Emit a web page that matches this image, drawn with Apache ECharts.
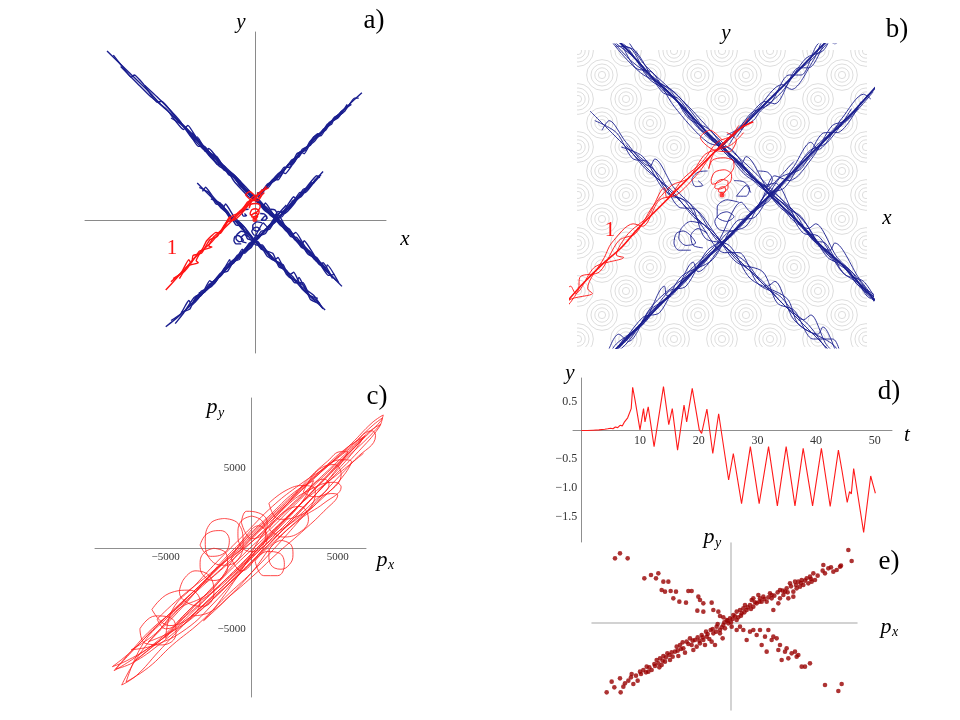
<!DOCTYPE html>
<html><head><meta charset="utf-8">
<script src="https://cdn.jsdelivr.net/npm/echarts@6/dist/echarts.min.js"></script>
<style>html,body{margin:0;padding:0;background:#fff}#c{width:960px;height:720px}</style>
</head><body><div id="c"></div>
<script>
// ---------- panels a) and b): trajectories in lattice units ----------
const bandNW1 = [
 [[-14.1,16.1],[-12,14.05],[-10,12.1],[-9,11.0],[-8,10.1],[-6,8.0],[-4,6.1],[-3,5.0],[-2,4.05],[-1,3.0],[0,2.0],[1,1.05],[2,0.0],[3,-0.95],[4,-2.0],[5,-2.9],[6,-4.0],[7,-5.0],[8.3,-6.35]],
 [[-13.5,15.7],[-12.4,14.3],[-11.8,13.6],[-11.5,13.8],[-10.6,12.9],[-9.3,11.2],[-8.9,11.3],[-7.5,9.7],[-5.5,7.7],[-4.7,6.5],[-4.4,6.8],[-3.2,5.4],[-1.5,3.8],[-0.2,2.4],[1.2,1.1],[2.5,-0.2],[3.6,-1.4],[3.9,-1.2],[4.8,-2.6],[5.6,-3.4],[6.6,-4.7],[7.8,-5.8]],
 [[-12.8,14.6],[-11.2,13.0],[-10,11.8],[-8.4,10.5],[-6.8,8.6],[-6.4,9.0],[-5.2,7.2],[-3.8,5.6],[-2.6,4.7],[-1.2,3.1],[0.3,1.6],[1.6,0.5],[2.8,-0.6],[3.3,-0.9],[4.2,-2.3],[5.4,-3.2],[6.2,-4.3],[6.5,-4.1],[7.4,-5.6]],
 [[-6,8.3],[-4.2,6.3],[-3.6,6.0],[-2.5,4.3],[-1.8,4.0],[-0.8,2.6],[0.6,1.5],[1.8,0.4],[2.2,0.5],[3.2,-1.2],[4.5,-2.3],[4.7,-2.0],[5.8,-3.6],[6.8,-4.6],[6.9,-4.3],[8.0,-6.0]],
 [[-10.5,12.8],[-9,11.4],[-7.2,9.5],[-5.8,7.6],[-5.5,7.9],[-4.6,6.4],[-3.4,5.1],[-2.2,4.4],[-1.4,3.2],[-0.5,2.7],[0.9,0.9],[2.0,0.2],[2.4,-0.1],[3.5,-1.2],[4.4,-2.6],[5.2,-3.0],[5.6,-3.7],[6.4,-4.2],[7.2,-5.3]],
 [[-8,9.7],[-6.6,8.8],[-5.4,7.0],[-4.8,7.0],[-3.6,5.3],[-2.9,5.1],[-2.0,3.7],[-0.6,2.2],[0.4,1.9],[1.4,0.5],[2.6,-0.4],[3.4,-1.6],[4.0,-1.7],[5.0,-3.2],[6.0,-3.9],[7.0,-5.3],[7.6,-5.2]],
 [[-4.4,6.2],[-3.8,6.1],[-3.1,5.0],[-2.0,4.3],[-1.3,3.5],[-0.3,2.2],[0.8,1.3],[1.0,1.6],[2.0,0.1],[3.0,-0.7],[3.8,-1.9],[4.3,-2.0],[5.1,-3.3],[5.9,-3.6],[6.6,-4.7]],
 [[-7,9.1],[-5,7.1],[-4.5,6.4],[-3.5,5.6],[-2.5,4.4],[-1.6,3.7],[-0.4,2.3],[0.7,1.4],[1.5,0.6],[2.4,-0.5],[3.3,-1.2],[4.0,-2.1],[4.9,-2.8],[5.8,-3.9],[6.4,-4.3],[7.3,-5.4]],
 [[-6.2,8.1],[-5.0,6.8],[-4.0,6.2],[-3.0,4.8],[-2.2,4.3],[-1.0,2.8],[0.0,2.1],[1.0,0.9],[1.9,0.3],[2.9,-1.0],[3.7,-1.6],[4.6,-2.7],[5.3,-3.2],[6.1,-4.2],[7.1,-5.0]]
];
const bandNE1 = [
 [[-0.3,1.8],[1,3.0],[2,4.0],[3,5.0],[4,6.05],[5,7.0],[6,8.0],[7,9.0],[8,10.0],[9,11.0],[10.2,12.1]],
 [[0.2,2.5],[1.3,3.1],[1.6,3.5],[2.5,4.3],[3.5,5.7],[4.2,6.0],[4.6,6.6],[5.7,7.5],[6.5,8.6],[7.3,9.1],[7.5,9.5],[8.6,10.4],[9.5,11.6],[9.9,11.6]],
 [[0.8,2.7],[1.8,3.9],[2.2,3.8],[3.2,5.3],[3.6,5.3],[4.5,6.7],[5.3,7.1],[5.5,7.6],[6.2,8.0],[6.9,9.1],[7.9,9.7],[8.2,10.3],[9.2,11.0]],
 [[0.3,2.1],[1.2,3.4],[2.0,3.8],[2.8,5.0],[3.3,5.0],[4.0,6.3],[4.8,6.6],[5.2,7.4],[6.0,8.2],[6.3,8.0],[7.1,9.3],[8.0,9.8],[8.8,11.0]],
 [[0.6,2.4],[1.5,3.6],[2.5,4.6],[2.9,4.4],[3.8,5.6],[4.3,6.5],[4.7,6.3],[5.6,7.9],[6.7,8.5],[7.6,9.8],[8.4,10.2]],
 [[0.1,2.2],[1.1,3.2],[2.1,4.1],[3.1,5.1],[3.9,5.8],[4.9,6.9],[5.9,8.0],[6.8,8.8],[7.8,9.9],[8.9,10.9]]
];
const bandNE2 = [
 [[6.5,4.6],[5.5,3.5],[4.5,2.5],[3.5,1.5],[2.5,0.5],[1.5,-0.5],[0.5,-1.5],[-0.5,-2.5],[-1.5,-3.5],[-2.5,-4.5],[-3.5,-5.5],[-4.5,-6.5],[-5.5,-7.5],[-6.5,-8.5],[-7.5,-9.4],[-8.5,-10.2]],
 [[6.2,4.0],[5.9,4.2],[5.0,3.2],[4.0,1.9],[3.7,2.2],[3.0,1.2],[2.0,-0.2],[1.0,-0.9],[0,-2.1],[-1.0,-3.2],[-1.2,-2.8],[-2.0,-4.1],[-3.0,-4.8],[-3.9,-6.1],[-4.3,-5.8],[-5.0,-7.0],[-6.0,-8.1],[-6.3,-7.7],[-7.1,-9.0],[-8.0,-9.6]],
 [[5.8,3.9],[4.8,2.6],[4.3,2.6],[3.3,1.1],[2.4,0.7],[1.4,-0.9],[0.6,-1.1],[-0.4,-2.7],[-1.7,-3.4],[-2.6,-4.9],[-3.3,-5.1],[-4.6,-6.7],[-5.8,-7.4],[-6.8,-8.9],[-7.6,-9.9]],
 [[3.0,1.4],[2.0,0.3],[1.2,-0.7],[0.8,-0.3],[-0.2,-2.0],[-1.3,-3.1],[-2.3,-4.2],[-2.4,-3.8],[-3.3,-5.4],[-4.4,-6.2],[-5.2,-7.3],[-5.3,-6.9]],
 [[6.3,4.3],[5.2,3.1],[4.6,2.9],[3.8,1.6],[2.8,0.6],[2.2,0.8],[1.6,-0.3],[0.4,-1.7],[-0.6,-2.3],[-1.5,-3.8],[-2.2,-4.0],[-3.2,-5.3],[-4.0,-5.9],[-4.8,-6.9],[-5.6,-7.3],[-6.2,-8.5],[-7.0,-8.8]],
 [[5.4,3.6],[4.4,2.2],[3.6,1.8],[2.6,0.3],[1.8,0.0],[1.0,-1.3],[0.2,-1.6],[-0.8,-2.9],[-1.9,-3.7],[-2.9,-4.6],[-3.6,-5.7],[-4.2,-6.4],[-5.1,-6.8],[-6.0,-8.0]],
 [[6.1,4.2],[5.1,3.0],[4.2,2.3],[3.2,1.3],[2.3,0.2],[1.3,-0.6],[0.3,-1.8],[-0.7,-2.6],[-1.6,-3.7],[-2.7,-4.6],[-3.6,-5.6],[-4.4,-6.5],[-5.4,-7.4],[-6.4,-8.4]],
 [[5.7,3.6],[4.6,2.7],[3.9,1.8],[2.9,0.8],[1.7,-0.4],[0.8,-1.2],[-0.1,-2.2],[-1.1,-3.0],[-2.1,-4.1],[-3.1,-5.0],[-3.8,-5.9],[-4.9,-6.8],[-5.8,-7.9]]
];
const bandNW2 = [
 [[-5.5,3.5],[-4.5,2.5],[-3.5,1.5],[-2.5,0.5],[-1.5,-0.5],[-0.5,-1.5],[0.5,-2.5],[1.5,-3.5],[2.5,-4.5],[3.5,-5.5],[4.5,-6.5],[5.5,-7.5],[6.7,-8.6]],
 [[-5.0,2.7],[-4.7,3.1],[-4.0,2.2],[-3.0,1.2],[-2.8,1.5],[-2.0,0.3],[-1.0,-0.7],[-0.2,-1.9],[1.0,-2.8],[1.9,-3.8],[2.2,-3.6],[3.0,-5.2],[4.0,-5.8],[4.2,-5.5],[5.0,-7.0],[6.0,-7.8],[6.4,-8.4]],
 [[-4.2,2.0],[-3.3,1.6],[-2.4,0.2],[-1.3,-0.4],[-0.7,-1.8],[0.3,-2.1],[1.2,-3.5],[2.7,-4.3],[3.2,-5.4],[4.7,-6.3],[5.3,-7.6],[6.2,-8.0]],
 [[-5.3,3.1],[-4.4,2.6],[-3.7,1.5],[-3.1,1.4],[-2.2,0.0],[-1.6,-0.2],[-0.9,-1.2],[0.1,-2.4],[0.7,-2.4],[1.5,-3.7],[2.4,-4.2],[3.4,-5.2],[3.7,-5.0],[4.4,-6.3],[5.6,-7.2],[6.5,-8.5]],
 [[-3.8,1.9],[-2.6,0.8],[-1.8,-0.5],[-1.1,-0.6],[-0.3,-1.6],[0.6,-2.8],[1.7,-3.2],[2.3,-4.5],[3.0,-4.8],[3.8,-6.0],[4.6,-6.0],[5.2,-7.2],[6.0,-7.5]],
 [[-4.0,2.1],[-3.2,1.1],[-2.1,0.2],[-1.2,-0.9],[-0.4,-1.5],[0.6,-2.7],[1.6,-3.5],[2.6,-4.6],[3.6,-5.4],[4.5,-6.6],[5.6,-7.6]]
];
const blueCurls = [
 [[-0.8,-1.2],[-1.3,-1.1],[-1.7,-1.4],[-1.8,-1.8],[-1.5,-2.1],[-1.1,-2.0],[-1.3,-1.7],[-1.6,-1.5],[-1.9,-1.6],[-2.0,-2.0],[-1.8,-2.3],[-1.3,-2.3]],
 [[-0.6,-1.6],[-1.0,-1.4],[-1.3,-1.7],[-1.2,-2.1],[-0.8,-2.2]],
 [[0.7,-0.3],[0.2,-0.2],[-0.2,-0.5],[-0.2,-0.9],[0.2,-1.1],[0.5,-0.9],[0.2,-0.7],[-0.1,-0.8],[-0.3,-1.1],[-0.1,-1.45],[0.4,-1.5],[0.7,-1.3]],
 [[0.5,0.6],[0.9,0.55],[1.15,0.25],[1.0,-0.05],[0.6,-0.05],[0.8,0.2],[1.0,0.4],[1.2,0.1]],
 [[-0.6,1.0],[-1.0,0.95],[-1.25,0.65],[-1.1,0.35],[-0.8,0.4],[-1.0,0.6]],
 [[1.5,1.0],[1.9,0.95],[2.1,0.65],[1.9,0.35],[1.6,0.4]]
];
const redStrands = [
 [[1.3,3.05],[0.8,2.8],[0.2,2.3],[-0.5,1.6],[-1.3,0.8],[-2.0,0.1],[-2.8,-0.7],[-3.5,-1.4],[-4.2,-2.2],[-5.0,-2.9],[-5.8,-3.7],[-6.6,-4.6],[-7.5,-5.6],[-8.5,-6.7]],
 [[1.1,3.2],[0.5,2.5],[-0.2,2.2],[-0.8,1.4],[-1.6,0.7],[-2.3,-0.1],[-2.4,0.3],[-3.1,-0.9],[-3.9,-1.6],[-4.4,-2.5],[-4.1,-2.6],[-5.3,-3.0],[-6.1,-4.1],[-6.3,-3.8],[-7.0,-5.0],[-8.0,-5.9]],
 [[0.9,2.6],[0.4,2.1],[-0.3,1.8],[-1.0,0.9],[-1.9,0.0],[-2.6,-0.2],[-3.3,-1.3],[-3.7,-1.2],[-4.6,-2.0],[-4.9,-2.6],[-5.6,-3.9],[-5.4,-4.1],[-6.4,-4.4],[-7.2,-5.6]],
 [[0.7,2.9],[0.0,2.0],[-0.7,1.7],[-1.4,0.7],[-2.1,0.4],[-2.9,-0.5],[-3.6,-1.6],[-4.3,-1.9],[-5.1,-3.2],[-5.9,-3.4],[-6.0,-4.0],[-6.7,-4.9],[-7.8,-5.6]],
 [[0.0,2.3],[-0.5,2.7],[-0.9,2.4],[-0.4,1.9],[0.3,1.8],[0.6,2.3],[0.2,2.6]],
 [[0,0],[0.15,0.2],[0.1,0.35],[-0.1,0.3],[-0.15,0.15],[0,0.1],[0.25,0.3],[0.25,0.55],[0,0.65],[-0.25,0.5],[-0.3,0.3],[-0.1,0.25],[0.35,0.55],[0.4,0.85],[0.1,1.05],[-0.3,0.95],[-0.45,0.6],[-0.4,0.45],[0.2,0.75],[0.5,1.2],[0.45,1.45],[0.05,1.55],[-0.4,1.45],[-0.55,1.1],[-0.45,1.5],[-0.3,1.8]]
];
const startPoint = [[0,0]];
// background potential contours (lattice of concentric rings) in b)
const latticeIdx = [-7,-6,-5,-4,-3,-2,-1,0,1,2,3,4,5,6,7];
const ringRadii = [0.15,0.3,0.46,0.64];

// ---------- panel c): momentum loops (px, py) ----------
const cLoops = [
 [[-8100,-7350],[-7000,-6400],[-5500,-4800],[-4000,-3300],[-2500,-1800],[-1000,-300],[500,1200],[2200,2900],[4000,4700],[5800,6500],[7000,7800],[7650,8280],[7500,7900],[6300,6600],[4500,4600],[2800,2700],[1000,700],[-700,-1300],[-2500,-3200],[-4300,-4900],[-6000,-6200],[-7300,-7000],[-8100,-7350]],
 [[-7560,-8490],[-6700,-7900],[-5400,-6400],[-4000,-4800],[-2600,-3300],[-1200,-1900],[300,-300],[1800,1300],[3300,2900],[4800,4500],[6200,6000],[7400,7500],[7600,8100],[7000,7600],[5600,6200],[4000,4800],[2500,3400],[1000,1900],[-500,400],[-2200,-1500],[-3800,-3300],[-5300,-5000],[-6600,-6700],[-7560,-8490]],
 [[-7900,-7500],[-6500,-5900],[-5000,-4300],[-3500,-2800],[-2000,-1500],[-600,0],[800,1500],[2500,3200],[4200,5000],[5600,6300],[6500,6900],[6000,6100],[4600,4400],[3000,2500],[1500,800],[0,-800],[-1800,-2700],[-3600,-4400],[-5400,-6000],[-6900,-7100],[-7900,-7500]],
 [[-6000,-5800],[-4500,-4200],[-3000,-2400],[-1800,-900],[-500,500],[1000,2000],[2500,3500],[3600,4200],[3000,3000],[1800,1500],[400,0],[-1000,-1800],[-2600,-3500],[-4200,-4900],[-6000,-5800]],
 [[-5000,-5600],[-3600,-3800],[-2000,-2500],[-500,-1000],[1000,600],[2600,1800],[4200,3200],[5400,4600],[5800,5400],[5200,5500],[4000,4800],[2600,3800],[1200,2600],[-300,1000],[-1800,-600],[-3300,-2300],[-4600,-3800],[-5000,-5600]],
 [[-2800,-4500],[-2000,-3500],[-500,-1200],[600,800],[2000,2600],[3500,3700],[4800,4100],[5200,3800],[4200,2800],[2800,1800],[1300,300],[0,-1500],[-1500,-3200],[-2800,-4500]],
 [[-1000,-1500],[1000,800],[3000,2900],[5000,4600],[6500,5900]],
 [[-1600,1850],[-800,1550],[-500,400],[-800,-700],[-1600,-1050],[-2400,-700],[-2700,400],[-2400,1550],[-1600,1850]],
 [[1700,500],[2300,200],[2400,-400],[2200,-1000],[1700,-1300],[1100,-1000],[1000,-400],[1200,200],[1700,500]],
 [[-2200,0],[-1500,-300],[-1400,-1000],[-1600,-1700],[-2200,-2000],[-2800,-1700],[-3000,-1000],[-2800,-300],[-2200,0]],
 [[0,2000],[600,1700],[800,900],[600,100],[0,-200],[-600,100],[-800,900],[-600,1700],[0,2000]],
 [[1000,2800],[2000,3600],[3000,3900],[3700,3600],[3500,2700],[2700,2000],[1600,1800],[1000,2800]],
 [[-5800,-3800],[-4800,-2800],[-3600,-2600],[-3000,-3300],[-3600,-4300],[-4800,-4800],[-5800,-3800]],
 [[-1200,-600],[-300,800],[400,1400],[900,700],[300,-500],[-600,-1400],[-1200,-600]],
 [[-8000,-7600],[-6800,-6800],[-5200,-5500],[-3800,-4000],[-2300,-2500],[-900,-1000],[700,600],[2300,2200],[3900,3900],[5300,5400],[6700,6800],[7500,7700],[6900,7300],[5400,5800],[3800,4200],[2200,2600],[600,1000],[-1000,-600],[-2600,-2100],[-4200,-3600],[-5800,-5000],[-7100,-6500],[-8000,-7600]],
 [[-7300,-8300],[-6000,-7400],[-4600,-6000],[-3000,-4600],[-1500,-3000],[0,-1500],[1500,200],[3000,2000],[4500,3800],[6000,5500],[7200,7000],[7000,7300],[5700,6200],[4200,4900],[2700,3500],[1200,2000],[-300,500],[-1800,-1000],[-3300,-2600],[-4800,-4200],[-6300,-5900],[-7300,-8300]],
 [[-7000,-6300],[-5600,-5300],[-4300,-3800],[-2800,-3000],[-2000,-2200],[-1000,-600],[200,800],[1600,2200],[3200,4200],[4400,5400],[5200,6000],[5600,6000],[5000,5000],[3600,3200],[2200,1600],[800,0],[-600,-1500],[-2200,-3400],[-3800,-5000],[-5600,-6000],[-7000,-6300]],
 [[-4000,-2000],[-3300,-1400],[-2400,-1800],[-2200,-2800],[-2800,-3600],[-3700,-3400],[-4200,-2700],[-4000,-2000]],
 [[1000,1200],[1800,2200],[2800,2600],[3300,1800],[2800,1000],[1800,700],[1000,1200]],
 [[-600,1600],[-300,2300],[400,2200],[900,1600],[700,900],[0,600],[-600,1600]],
 [[3000,3500],[3800,4800],[4800,5200],[5200,4600],[4600,3600],[3600,3200],[3000,3500]],
 [[-6500,-5000],[-5600,-4200],[-4600,-4400],[-4400,-5300],[-5200,-6000],[-6200,-5900],[-6500,-5000]],
 [[200,-800],[900,-200],[1600,-300],[1900,-1000],[1500,-1700],[700,-1700],[200,-800]],
 [[-3000,200],[-2600,900],[-1800,1100],[-1300,500],[-1600,-300],[-2400,-500],[-3000,200]],
 [[-6800,-7000],[-5200,-5600],[-3600,-3900],[-2000,-2100],[-500,-400],[1000,1100],[2600,2800],[4200,4500],[5700,6000],[6600,7000],[6200,6500],[4800,5000],[3300,3300],[1800,1600],[300,0],[-1300,-1700],[-2900,-3400],[-4500,-5000],[-6000,-6300],[-6800,-7000]],
 [[-5500,-4400],[-4200,-3100],[-2800,-1900],[-1400,-700],[0,400],[1500,1800],[3000,3300],[4200,4300],[4500,4000],[3600,2900],[2200,1500],[800,200],[-700,-1200],[-2200,-2600],[-3600,-4000],[-5000,-5000],[-5500,-4400]],
 [[-3500,-4200],[-2200,-3000],[-800,-1700],[700,-200],[2000,1100],[3400,2400],[4600,3400],[5000,3300],[4200,2300],[2900,1000],[1500,-300],[200,-1600],[-1200,-2900],[-2500,-4000],[-3500,-4200]]
];
const cTicks = [-5000, 5000];

// ---------- panel d): y(t) ----------
const tVals = [0,1,2,3,4,4.5,5,5.4,5.8,6.2,6.6,7,7.3,7.6,7.9,8.2,8.5,8.75,9.15,9.4,10.0,10.6,10.85,11.4,12.4,14.0,14.9,15.5,16.4,17.5,17.95,18.9,20.1,20.5,21.4,22.4,23.4,25.1,25.9,27.3,28.8,30.3,31.9,33.4,34.9,36.4,37.8,39.4,40.9,42.4,43.8,44.4,45.3,45.7,46.0,46.4,48.1,49.3,49.8,50.1];
const yVals = [0,0,0.005,0.01,0.02,0.03,0.04,0.03,0.06,0.05,0.09,0.08,0.14,0.12,0.22,0.2,0.38,0.75,0.53,0.5,0.01,0.38,0.15,0.41,-0.28,0.76,0.1,0.38,-0.34,0.44,0.15,0.73,0.01,-0.05,0.37,-0.4,0.29,-0.86,-0.4,-1.27,-0.28,-1.27,-0.28,-1.31,-0.28,-1.31,-0.31,-1.31,-0.31,-1.32,-0.34,-0.69,-1.25,-1.06,-1.1,-0.66,-1.77,-0.79,-0.98,-1.09];
const dTTicks = [10,20,30,40,50];
const dYTicks = [-1.5,-1.0,-0.5,0.5];

// ---------- panel e): scatter (px, py), arbitrary units ----------
const eArmUpLeft = [[-348,192],[-333,207],[-310,192],[-260,132],[-240,142],[-218,147],[-225,132],[-203,122],[-188,122],[-208,97],[-198,92],[-181,94],[-165,92],[-128,94],[-118,94],[-173,72],[-155,62],[-135,59],[-98,77],[-93,67],[-101,35],[-83,32],[-83,57],[-58,59],[-38,32],[-53,37],[-33,19],[-23,15]];
const eDiagLow = [[-373,-210],[-358,-178],[-333,-168],[-331,-210],[-318,-183],[-308,-175],[-298,-155],[-323,-193],[-293,-185],[-270,-155],[-263,-143],[-253,-133],[-238,-143],[-228,-131],[-218,-123],[-213,-108],[-203,-101],[-191,-93],[-183,-113],[-175,-103],[-168,-88],[-163,-73],[-153,-68],[-143,-78],[-133,-58],[-123,-48],[-118,-68],[-108,-53],[-103,-73],[-93,-63],[-88,-38],[-75,-28],[-73,-43],[-61,-23],[-53,-33],[-48,-68],[-43,-13],[-33,-23],[-23,-8],[-18,-18],[-13,7],[-8,-3],[-198,-118],[-208,-128],[-223,-113],[-248,-148],[-273,-148],[-158,-101],[-138,-91],[-113,-83],[-83,-53],[-78,-68],[-58,-58],[-33,-33],[-25,-48],
 [-350,-195],[-300,-165],[-285,-160],[-280,-175],[-255,-150],[-245,-135],[-230,-125],[-215,-135],[-205,-115],[-195,-105],[-185,-98],[-178,-90],[-160,-85],[-150,-80],[-145,-60],[-128,-65],[-115,-55],[-100,-45],[-95,-55],[-85,-45],[-70,-35],[-65,-50],[-55,-20],[-45,-28],[-40,-5],[-28,-15],[-20,0],[-10,5]];
const eDiagHigh = [[-3,12],[7,22],[17,7],[2,-13],[17,32],[27,37],[32,27],[37,42],[47,37],[42,52],[57,52],[62,67],[67,47],[77,57],[87,72],[92,62],[97,77],[107,62],[117,87],[122,72],[127,37],[142,57],[147,97],[157,82],[167,102],[172,72],[177,117],[187,92],[197,102],[202,122],[212,127],[217,112],[227,132],[237,137],[247,147],[242,122],[252,127],[277,172],[282,147],[292,162],[307,152],[317,157],[327,167],[352,217],[362,184],[67,72],[82,82],[147,72],[162,92],[192,122],[207,107],[232,117],[187,77],[122,82],
 [0,0],[5,10],[12,18],[22,15],[30,20],[40,30],[50,45],[60,40],[72,60],[85,62],[100,70],[112,75],[130,80],[140,90],[155,95],[170,90],[180,108],[195,112],[210,118],[222,125],[240,130],[260,140],[275,155],[300,165],[330,170]];
const eArmLowRight = [[17,-23],[27,-13],[37,-23],[47,-53],[57,-28],[67,-23],[77,-38],[87,-23],[92,-68],[102,-43],[107,-88],[112,-23],[122,-53],[127,-43],[137,-48],[142,-83],[147,-68],[152,-113],[162,-88],[167,-78],[172,-108],[182,-93],[192,-88],[197,-103],[202,-98],[212,-133],[222,-133],[237,-123],[282,-188],[322,-206],[332,-185]];

// ---------- build ----------
const BLUE = '#1b1f8f', RED = '#ff1414';
const SERIF = '"Liberation Serif", "DejaVu Serif", serif';
const coreStrands = [bandNW1[0], bandNE1[0], bandNE2[0], redStrands[0]];
const blueStrands = [].concat(bandNW1, bandNE1, bandNE2, bandNW2, blueCurls);
const latticeData = [];
latticeIdx.forEach(i => latticeIdx.forEach(j => { if ((i + j) % 2 === 0) latticeData.push([i, j]); }));

const grids = [
  {left: 85, top: 32, width: 301, height: 321},     // 0 a
  {left: 577, top: 50, width: 290, height: 297},    // 1 b pattern
  {left: 570, top: 44, width: 303, height: 304},    // 2 b trajectories
  {left: 95, top: 398, width: 271, height: 299},    // 3 c axes
  {left: 573, top: 378, width: 319, height: 164},   // 4 d
  {left: 592, top: 543, width: 265, height: 167},   // 5 e
  {left: 95, top: 398, width: 292.57, height: 299}  // 6 c curves (same scale, wider so loops run past the axis)
].map(g => Object.assign(g, {containLabel: false, outerBoundsMode: 'none'}));

const hidden = (gi, min, max) => ({gridIndex: gi, type: 'value', min, max, show: false});
const plainAxis = (gi, min, max, color, width) => ({
  gridIndex: gi, type: 'value', min, max,
  axisLine: {show: true, onZero: true, lineStyle: {color, width}},
  axisTick: {show: false}, axisLabel: {show: false}, splitLine: {show: false}
});
// axis with labels, shifted (offset) so that it passes through the origin
const labelAxis = (gi, min, max, offset, ticks, fmt, margin, fs) => ({
  gridIndex: gi, type: 'value', min, max, offset,
  axisLine: {show: true, onZero: false, lineStyle: {color: '#8f8f8f'}},
  axisTick: {show: false}, splitLine: {show: false},
  axisLabel: {show: true, customValues: ticks, formatter: fmt, margin, color: '#333', fontFamily: SERIF, fontSize: fs}
});
const fmtNum = v => (v < 0 ? '\u2212' : '') + Math.abs(v);
const fmtDec = v => (v < 0 ? '\u2212' : '') + Math.abs(v).toFixed(1);

const xAxes = [
  plainAxis(0, -16.2, 12.5, '#8a8a8a', 1),
  hidden(1, -6.0417, 6.0417),
  hidden(2, -6.333, 6.292),
  labelAxis(3, -9110, 6645, -148.7, cTicks, fmtNum, 3, 11),
  labelAxis(4, -1.414, 52.93, -111.5, dTTicks, v => String(v), 4, 12),
  plainAxis(5, -417, 378, '#c4c4c4', 1.5),
  hidden(6, -9110, 7900)
];
const yAxes = [
  plainAxis(0, -12.7, 17.9, '#8a8a8a', 1),
  hidden(1, -6.333, 6.0417),
  hidden(2, -6.375, 6.292),
  labelAxis(3, -9236, 9335, -156.7, cTicks, fmtNum, 6, 11),
  labelAxis(4, -1.936, 0.911, -8.3, dYTicks, fmtDec, 4, 12),
  plainAxis(5, -263, 238, '#c4c4c4', 1.5),
  hidden(6, -9236, 9335)
];

const series = [];
function lineS(ai, data, color, width, smooth) {
  series.push({type: 'line', xAxisIndex: ai, yAxisIndex: ai, data, showSymbol: false, symbol: 'none',
    smooth: smooth || 0, clip: true, silent: true, animation: false,
    lineStyle: {color, width}});
}
// b) background contours
series.push({type: 'custom', xAxisIndex: 1, yAxisIndex: 1, data: latticeData, clip: true, silent: true, animation: false,
  renderItem: (params, api) => {
    const c = api.coord([api.value(0), api.value(1)]);
    const s = api.size([1, 1]);
    return {type: 'group', children: ringRadii.map(r => ({type: 'circle',
      shape: {cx: c[0], cy: c[1], r: r * s[0]},
      style: {fill: 'none', stroke: '#d9d9d9', lineWidth: 0.9}}))};
  }});
// a) and b) trajectories from the same data
[[0, 1.4, 0.15], [2, 0.9, 0.3]].forEach(([ai, w, sm]) => {
  blueStrands.forEach(d => lineS(ai, d, BLUE, coreStrands.includes(d) && ai === 2 ? 1.8 : w, sm));
  redStrands.forEach(d => lineS(ai, d, RED, coreStrands.includes(d) && ai === 2 ? 1.6 : w, sm));
  series.push({type: 'scatter', xAxisIndex: ai, yAxisIndex: ai, data: startPoint, symbolSize: 5,
    itemStyle: {color: RED}, silent: true, animation: false});
});
// c)
cLoops.forEach(d => lineS(6, d, '#ff1a1a', 0.8, 0.45));
// d)
lineS(4, tVals.map((t, i) => [t, yVals[i]]), '#ff1a1a', 1.1, 0);
// e)
series.push({type: 'scatter', xAxisIndex: 5, yAxisIndex: 5,
  data: [].concat(eArmUpLeft, eDiagLow, eDiagHigh, eArmLowRight),
  symbolSize: 4.6, itemStyle: {color: '#990000'}, silent: true, animation: false});

function txt(x, y, text, size, italic, color) {
  return {type: 'text', x, y, silent: true, z: 100,
    style: {text, fill: color || '#000', align: 'center', verticalAlign: 'middle',
      font: (italic ? 'italic ' : '') + size + 'px ' + SERIF}};
}
const graphic = [
  txt(241, 22, 'y', 21, true), txt(405, 239, 'x', 21, true), txt(374, 21, 'a)', 27),
  txt(172, 248, '1', 21, false, RED),
  txt(726, 33, 'y', 21, true), txt(887, 218, 'x', 21, true), txt(897, 30, 'b)', 27),
  txt(610, 230, '1', 21, false, RED),
  txt(212, 407, 'p', 22, true), txt(221, 413, 'y', 14, true), txt(377, 397, 'c)', 27),
  txt(382, 560, 'p', 22, true), txt(391, 565, 'x', 14, true),
  txt(570, 373, 'y', 21, true), txt(907, 435, 't', 21, true), txt(889, 392, 'd)', 27),
  txt(709, 537, 'p', 22, true), txt(718, 543, 'y', 14, true), txt(889, 562, 'e)', 27),
  txt(886, 627, 'p', 22, true), txt(895, 632, 'x', 14, true)
];

const chart = echarts.init(document.getElementById('c'), null, {renderer: 'canvas', width: 960, height: 720});
chart.setOption({backgroundColor: '#fff', animation: false, grid: grids, xAxis: xAxes, yAxis: yAxes, series, graphic});
</script></body></html>
